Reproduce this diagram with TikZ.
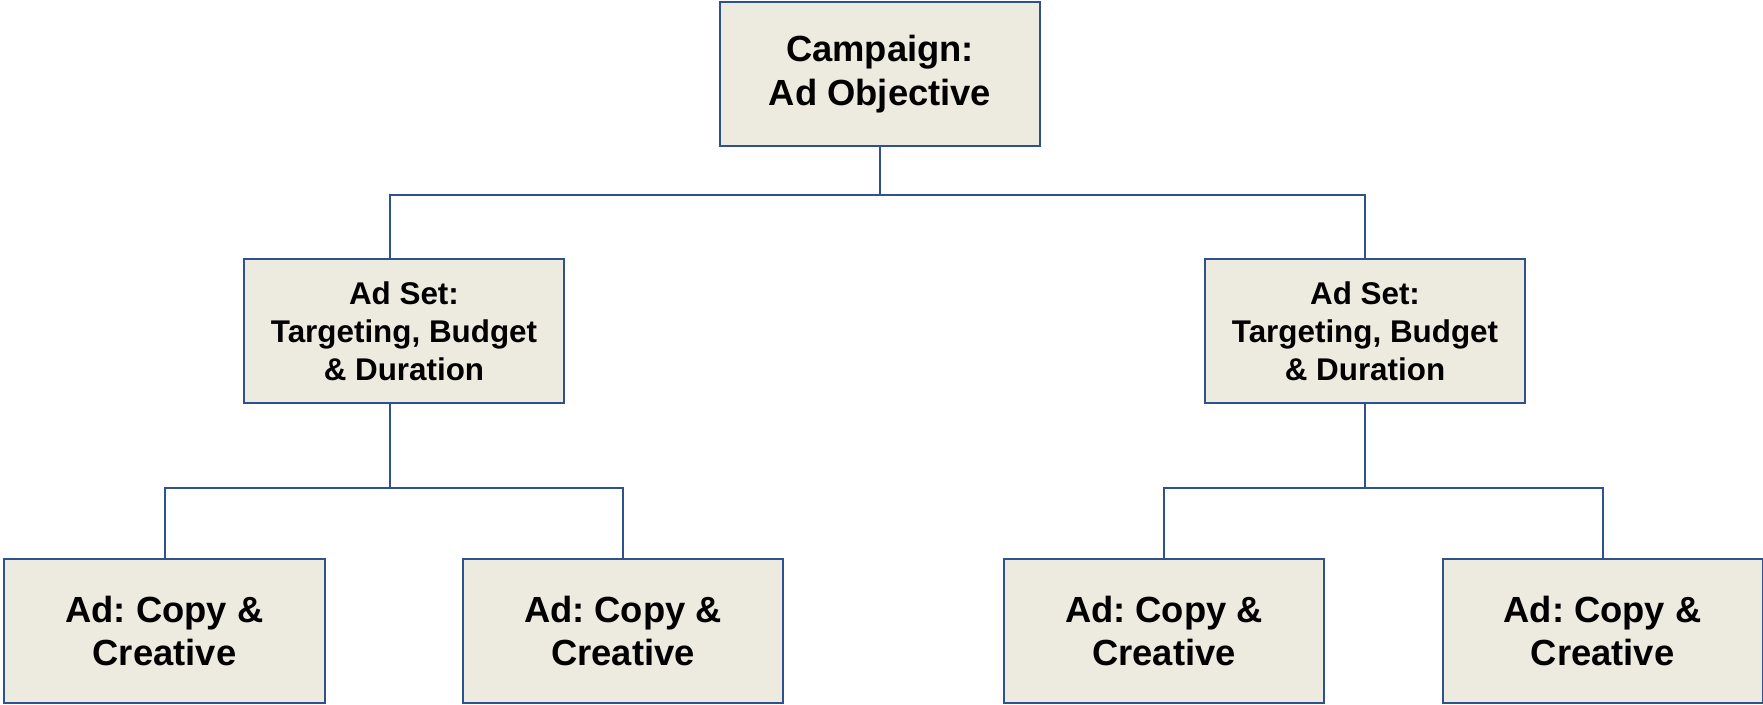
\documentclass[tikz,border=0pt]{standalone}
\usepackage{fontspec}
\setmainfont{Liberation Sans}
\frenchspacing
\definecolor{boxfill}{RGB}{237,235,224}
\definecolor{boxline}{RGB}{47,82,143}
\begin{document}
\begin{tikzpicture}[x=1bp,y=-1bp,
  box/.style={draw=boxline, line width=2bp, fill=boxfill, rectangle,
    minimum width=320bp, minimum height=144bp, inner sep=0pt,
    align=center, font=\bfseries\fontsize{36.5}{44}\selectfont},
  setbox/.style={box, font=\bfseries\fontsize{31.5}{38}\selectfont},
  conn/.style={draw=boxline, line width=2bp}]
\useasboundingbox (0,0) rectangle (1763,705);

% hierarchy levels
\node[box] (camp) at (880,74) {Campaign:\\Ad Objective};
\node[setbox] (set1) at (404,331) {Ad Set:\\Targeting, Budget\\\& Duration};
\node[setbox] (set2) at (1365,331) {Ad Set:\\Targeting, Budget\\\& Duration};
\node[box] (ad1) at (164.5,631) {Ad: Copy \&\\Creative};
\node[box] (ad2) at (623,631) {Ad: Copy \&\\Creative};
\node[box] (ad3) at (1164,631) {Ad: Copy \&\\Creative};
\node[box] (ad4) at (1602.5,631) {Ad: Copy \&\\Creative};

% junction points of the tree lines
\coordinate (j0) at (880,195);
\coordinate (j1) at (390,488);
\coordinate (j2) at (1365,488);

% campaign to ad sets
\draw[conn] (camp.south) -- (j0);
\draw[conn] (set1.north -| j1) |- (set2.north |- j0) -- (set2.north);

% ad sets to ads
\draw[conn] (set1.south -| j1) -- (j1);
\draw[conn] (ad1.north) |- (ad2.north |- j1) -- (ad2.north);
\draw[conn] (set2.south) -- (j2);
\draw[conn] (ad3.north) |- (ad4.north |- j2) -- (ad4.north);
\end{tikzpicture}
\end{document}
